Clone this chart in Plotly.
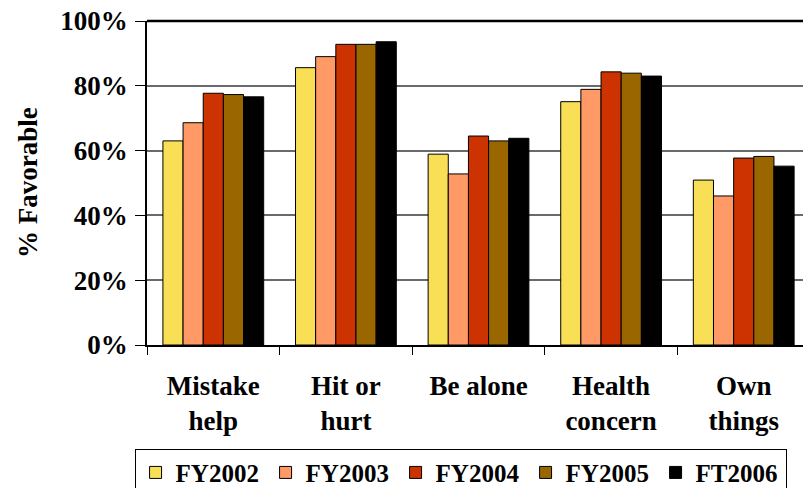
import plotly.graph_objects as go

categories = ["Mistake<br>help", "Hit or<br>hurt", "Be alone", "Health<br>concern", "Own<br>things"]
series_names = ["FY2002", "FY2003", "FY2004", "FY2005", "FT2006"]
fy2002 = [0.630, 0.856, 0.589, 0.751, 0.509]
fy2003 = [0.686, 0.890, 0.528, 0.789, 0.460]
fy2004 = [0.777, 0.928, 0.645, 0.843, 0.577]
fy2005 = [0.773, 0.928, 0.630, 0.839, 0.582]
ft2006 = [0.766, 0.936, 0.638, 0.830, 0.552]
colors = ["#F9DF55", "#FF9966", "#CC3300", "#996600", "#000000"]

values = [fy2002, fy2003, fy2004, fy2005, ft2006]

fig = go.Figure()
for name, vals, col in zip(series_names, values, colors):
    fig.add_trace(go.Bar(
        x=categories, y=vals, name=name,
        marker=dict(color=col, line=dict(color="black", width=1)),
    ))

FONT = "Liberation Serif, Times New Roman, serif"
SZ = 27
fig.update_layout(
    width=803, height=488,
    margin=dict(l=147, r=0, t=21, b=143, autoexpand=False),
    paper_bgcolor="white", plot_bgcolor="white",
    font=dict(family=FONT, size=SZ, color="black", weight="bold"),
    barmode="group", bargap=0.24, bargroupgap=0,
    showlegend=True,
    legend=dict(
        orientation="h", x=0.478, xanchor="center", y=-0.32, yanchor="top",
        bordercolor="black", borderwidth=1,
        font=dict(family=FONT, size=25, color="black", weight="bold"),
        itemclick=False, tracegroupgap=0, entrywidth=85, entrywidthmode="pixels",
    ),
    xaxis=dict(
        range=[-0.5, 4.447], tickson="boundaries", ticks="outside", ticklen=8,
        tickcolor="black", showline=True, linecolor="black", linewidth=1.5,
        showgrid=False, tickangle=0, automargin=False, ticklabelstandoff=16,
        tickfont=dict(family=FONT, size=SZ, color="black", weight="bold"),
    ),
    yaxis=dict(
        range=[0, 1], dtick=0.2, tickformat=".0%", ticks="outside", ticklen=10,
        tickcolor="black", showline=True, linecolor="black", linewidth=1.5,
        showgrid=True, gridcolor="#6a6a6a", gridwidth=1.5,
        zeroline=False, automargin=False, ticklabelstandoff=2,
        tickfont=dict(family=FONT, size=SZ, color="black", weight="bold"),
    ),
    shapes=[dict(type="line", xref="paper", yref="paper", x0=0, x1=1, y0=1, y1=1,
                 line=dict(color="black", width=2.5))],
    annotations=[dict(text="% Favorable", xref="paper", yref="paper",
                      x=-0.1814, y=0.5, xanchor="center", yanchor="middle",
                      textangle=-90, showarrow=False,
                      font=dict(family=FONT, size=SZ, color="black", weight="bold"))],
)

fig.write_html("out.html", config={"displayModeBar": False},
               post_script="document.body.style.margin='0';document.body.style.overflow='hidden';")
